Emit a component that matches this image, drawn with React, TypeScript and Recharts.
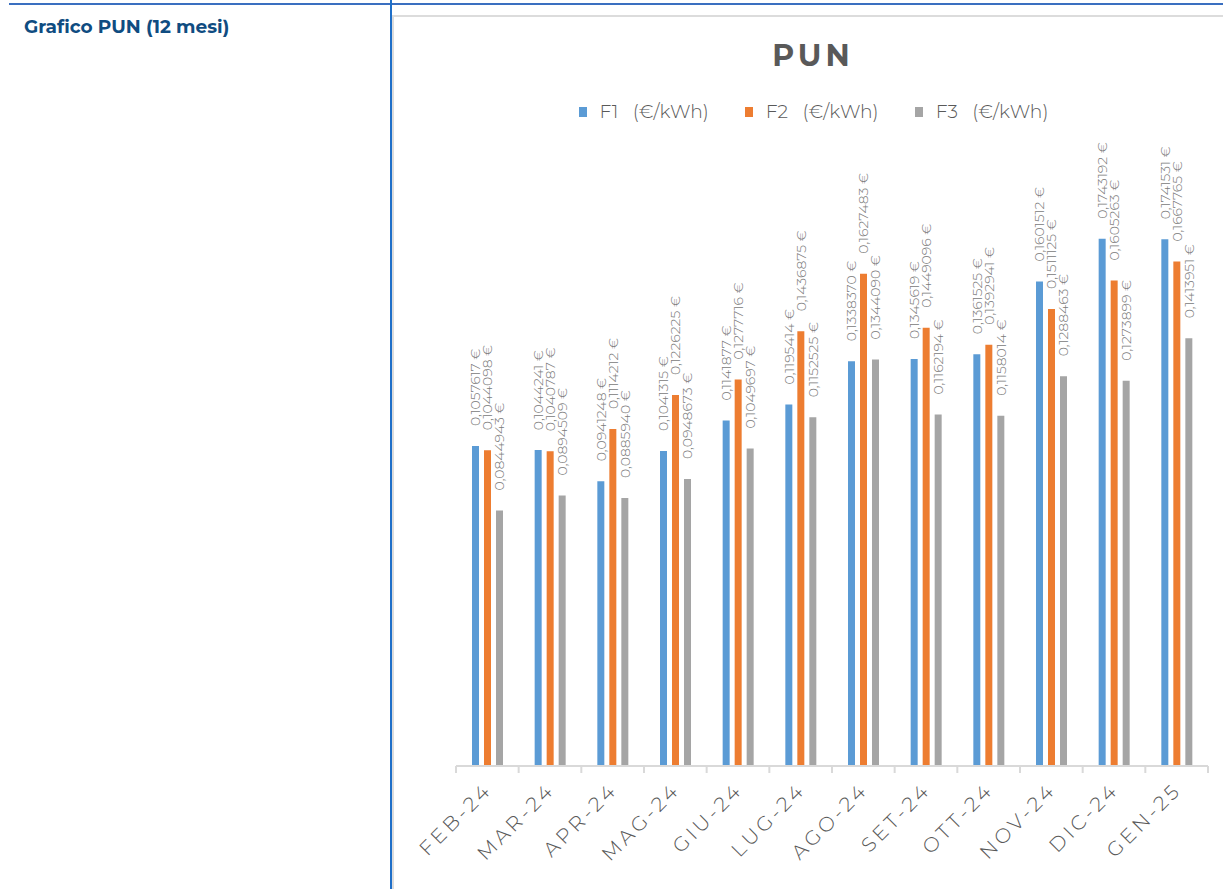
import { BarChart, Bar, XAxis, YAxis, Legend, LabelList } from 'recharts';

const months = ['FEB-24', 'MAR-24', 'APR-24', 'MAG-24', 'GIU-24', 'LUG-24', 'AGO-24', 'SET-24', 'OTT-24', 'NOV-24', 'DIC-24', 'GEN-25'];
const f1 = [0.1057617, 0.1044241, 0.0941248, 0.1041315, 0.1141877, 0.1195414, 0.133837, 0.1345619, 0.1361525, 0.1601512, 0.1743192, 0.1741531];
const f2 = [0.1044098, 0.1040787, 0.1114212, 0.1226225, 0.1277716, 0.1436875, 0.1627483, 0.1449096, 0.1392941, 0.1511125, 0.1605263, 0.1667765];
const f3 = [0.0844943, 0.0894509, 0.088594, 0.0948673, 0.1049697, 0.1152525, 0.134409, 0.1162194, 0.1158014, 0.1288463, 0.1273899, 0.1413951];

const data = months.map((m, i) => ({ name: m, f1: f1[i], f2: f2[i], f3: f3[i] }));

const series = [
  { key: 'f1', label: 'F1   (€/kWh)', color: '#5b9bd5' },
  { key: 'f2', label: 'F2   (€/kWh)', color: '#ed7d31' },
  { key: 'f3', label: 'F3   (€/kWh)', color: '#a5a5a5' },
];

const font = "Montserrat, 'Open Sans', Lato, sans-serif";

const fmt = (v: number) => v.toFixed(7).replace('.', ',') + ' €';

const ValueLabel = (props: any) => {
  const { x, y, width, value } = props;
  const cx = x + width / 2;
  const cy = y - 20;
  return (
    <text
      x={cx}
      y={cy}
      transform={`rotate(-90 ${cx} ${cy})`}
      textAnchor="start"
      dy="0.35em"
      fontSize={14}
      fill="#7a7a7a"
      fontFamily={font}
      fontWeight={300}
    >
      {fmt(value)}
    </text>
  );
};

// category label plus the tick marks on the band edges (Excel style)
const MonthTick = (props: any) => {
  const { x, y, payload, index, visibleTicksCount } = props;
  const half = payload.offset || 0;
  const tx = x + 6;
  const ty = y + 25;
  const last = index === visibleTicksCount - 1;
  return (
    <g>
      <line x1={x - half} x2={x - half} y1={y} y2={y + 7} stroke="#d9d9d9" strokeWidth={2} />
      {last && <line x1={x + half} x2={x + half} y1={y} y2={y + 7} stroke="#d9d9d9" strokeWidth={2} />}
      <text
        x={tx}
        y={ty}
        transform={`rotate(-45 ${tx} ${ty})`}
        textAnchor="end"
        fontSize={20}
        letterSpacing={3.5}
        fill="#595959"
        fontFamily={font}
        fontWeight={300}
      >
        {payload.value}
      </text>
    </g>
  );
};

const LegendBox = () => (
  <div style={{ display: 'flex', justifyContent: 'center', gap: 36, paddingLeft: 10, fontFamily: font, fontSize: 18.7, color: '#595959', fontWeight: 300 }}>
    {series.map((s) => (
      <div key={s.key} style={{ display: 'flex', alignItems: 'center' }}>
        <span style={{ display: 'inline-block', width: 8, height: 10, background: s.color, marginRight: 13 }} />
        <span style={{ whiteSpace: 'pre' }}>{s.label}</span>
      </div>
    ))}
  </div>
);

export default function App() {
  return (
    <div style={{ position: 'absolute', left: 0, top: 0, width: 1223, height: 889, background: '#fff', overflow: 'hidden' }}>
      <div style={{ position: 'absolute', left: 9, top: 3, width: 1214, height: 2, background: '#3a6fc0' }} />
      <div style={{ position: 'absolute', left: 390, top: 0, width: 2, height: 889, background: '#1f6fc8' }} />
      <div
        style={{
          position: 'absolute',
          left: 24,
          top: 15,
          fontFamily: font,
          fontWeight: 700,
          fontSize: 18.5,
          color: '#0f4c81',
        }}
      >
        Grafico PUN (12 mesi)
      </div>
      <div
        style={{
          position: 'absolute',
          left: 392,
          top: 15,
          width: 831,
          height: 874,
          borderLeft: '2px solid #dcdcdc',
          borderTop: '2px solid #dcdcdc',
          boxSizing: 'border-box',
        }}
      >
        <div
          style={{
            position: 'absolute',
            left: 0,
            right: 0,
            top: 20,
            paddingLeft: 9,
            textAlign: 'center',
            fontFamily: font,
            fontWeight: 700,
            fontSize: 30,
            letterSpacing: 4,
            color: '#595959',
          }}
        >
          PUN
        </div>
        <BarChart
          width={829}
          height={872}
          data={data}
          margin={{ top: 121, right: 15, left: 62, bottom: 0 }}
          barSize={7}
          barGap={5}
        >
          <XAxis
            dataKey="name"
            height={123}
            stroke="#d9d9d9"
            strokeWidth={2}
            tickLine={false}
            tickSize={0}
            tickMargin={0}
            interval={0}
            tick={<MonthTick />}
          />
          <YAxis hide domain={[0, 0.2]} />
          <Legend verticalAlign="top" wrapperStyle={{ top: 83, left: 0, width: 829 }} content={<LegendBox />} />
          {series.map((s) => (
            <Bar key={s.key} dataKey={s.key} fill={s.color} isAnimationActive={false}>
              <LabelList dataKey={s.key} content={<ValueLabel />} />
            </Bar>
          ))}
        </BarChart>
      </div>
    </div>
  );
}
